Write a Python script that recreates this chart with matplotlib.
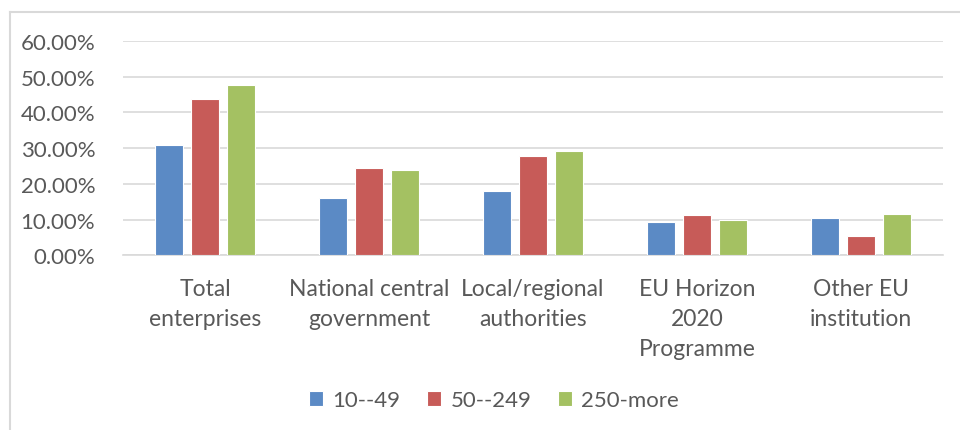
import matplotlib.pyplot as plt
import numpy as np
from matplotlib.ticker import FuncFormatter

# --------------------------------------------------
# Data
# --------------------------------------------------
categories = [
    'Total\nenterprises',
    'National central\ngovernment',
    'Local/regional\nauthorities',
    'EU Horizon\n2020\nProgramme',
    'Other EU\ninstitution',
]
series_names = ['10--49', '50--249', '250-more']
small  = [31.0, 16.0, 18.1, 9.4, 10.5]
medium = [43.9, 24.5, 27.8, 11.2, 5.5]
large  = [47.6, 23.8, 29.2, 9.9, 11.6]

colors = ['#5B8AC5', '#C75B58', '#A4C162']
text_color = '#595959'
grid_color = '#D9D9D9'

plt.rcParams['font.family'] = ['Lato', 'DejaVu Sans']

# --------------------------------------------------
# Figure Setup
# --------------------------------------------------
fig = plt.figure(figsize=(9.6, 4.31), dpi=100)
ax = fig.add_axes([123 / 960, 174.7 / 431, 820 / 960, 214.3 / 431])

x = np.arange(len(categories))
width = 0.171
step = 0.22

for i, (vals, name) in enumerate(zip([small, medium, large], series_names)):
    ax.bar(x + (i - 1) * step, vals, width, color=colors[i],
           edgecolor='white', linewidth=0.8, label=name, zorder=3)

# --------------------------------------------------
# Axes styling
# --------------------------------------------------
ax.set_xlim(-0.5, len(categories) - 0.5)
ax.set_ylim(0, 60)
ax.set_yticks(np.arange(0, 61, 10))
ax.yaxis.set_major_formatter(FuncFormatter(lambda v, p: f'{v:.2f}%'))
ax.grid(axis='y', color=grid_color, linewidth=1.2, zorder=0)

ax.set_xticks(x)
ax.set_xticklabels(categories, linespacing=1.55)
ax.tick_params(axis='x', length=0, pad=16, labelsize=16.5, labelcolor=text_color)
ax.tick_params(axis='y', length=0, pad=20, labelsize=16, labelcolor=text_color)

for side in ['top', 'right', 'left']:
    ax.spines[side].set_visible(False)
ax.spines['bottom'].set_color(grid_color)
ax.spines['bottom'].set_linewidth(1.2)

# --------------------------------------------------
# Legend
# --------------------------------------------------
fig.legend(
    loc='center',
    bbox_to_anchor=(494 / 960, 30 / 431),
    ncol=3,
    frameon=False,
    fontsize=16,
    labelcolor=text_color,
    handlelength=0.65,
    handleheight=0.65,
    handletextpad=0.4,
    columnspacing=1.2,
)

# --------------------------------------------------
# Chart border (top and left visible)
# --------------------------------------------------
fig.add_artist(plt.Line2D([9.5 / 960, 9.5 / 960], [0, 1 - 12.7 / 431],
                          color=grid_color, linewidth=1.5))
fig.add_artist(plt.Line2D([9.5 / 960, 1], [1 - 12.7 / 431, 1 - 12.7 / 431],
                          color=grid_color, linewidth=1.5))

fig.savefig('out.png', dpi=100)
